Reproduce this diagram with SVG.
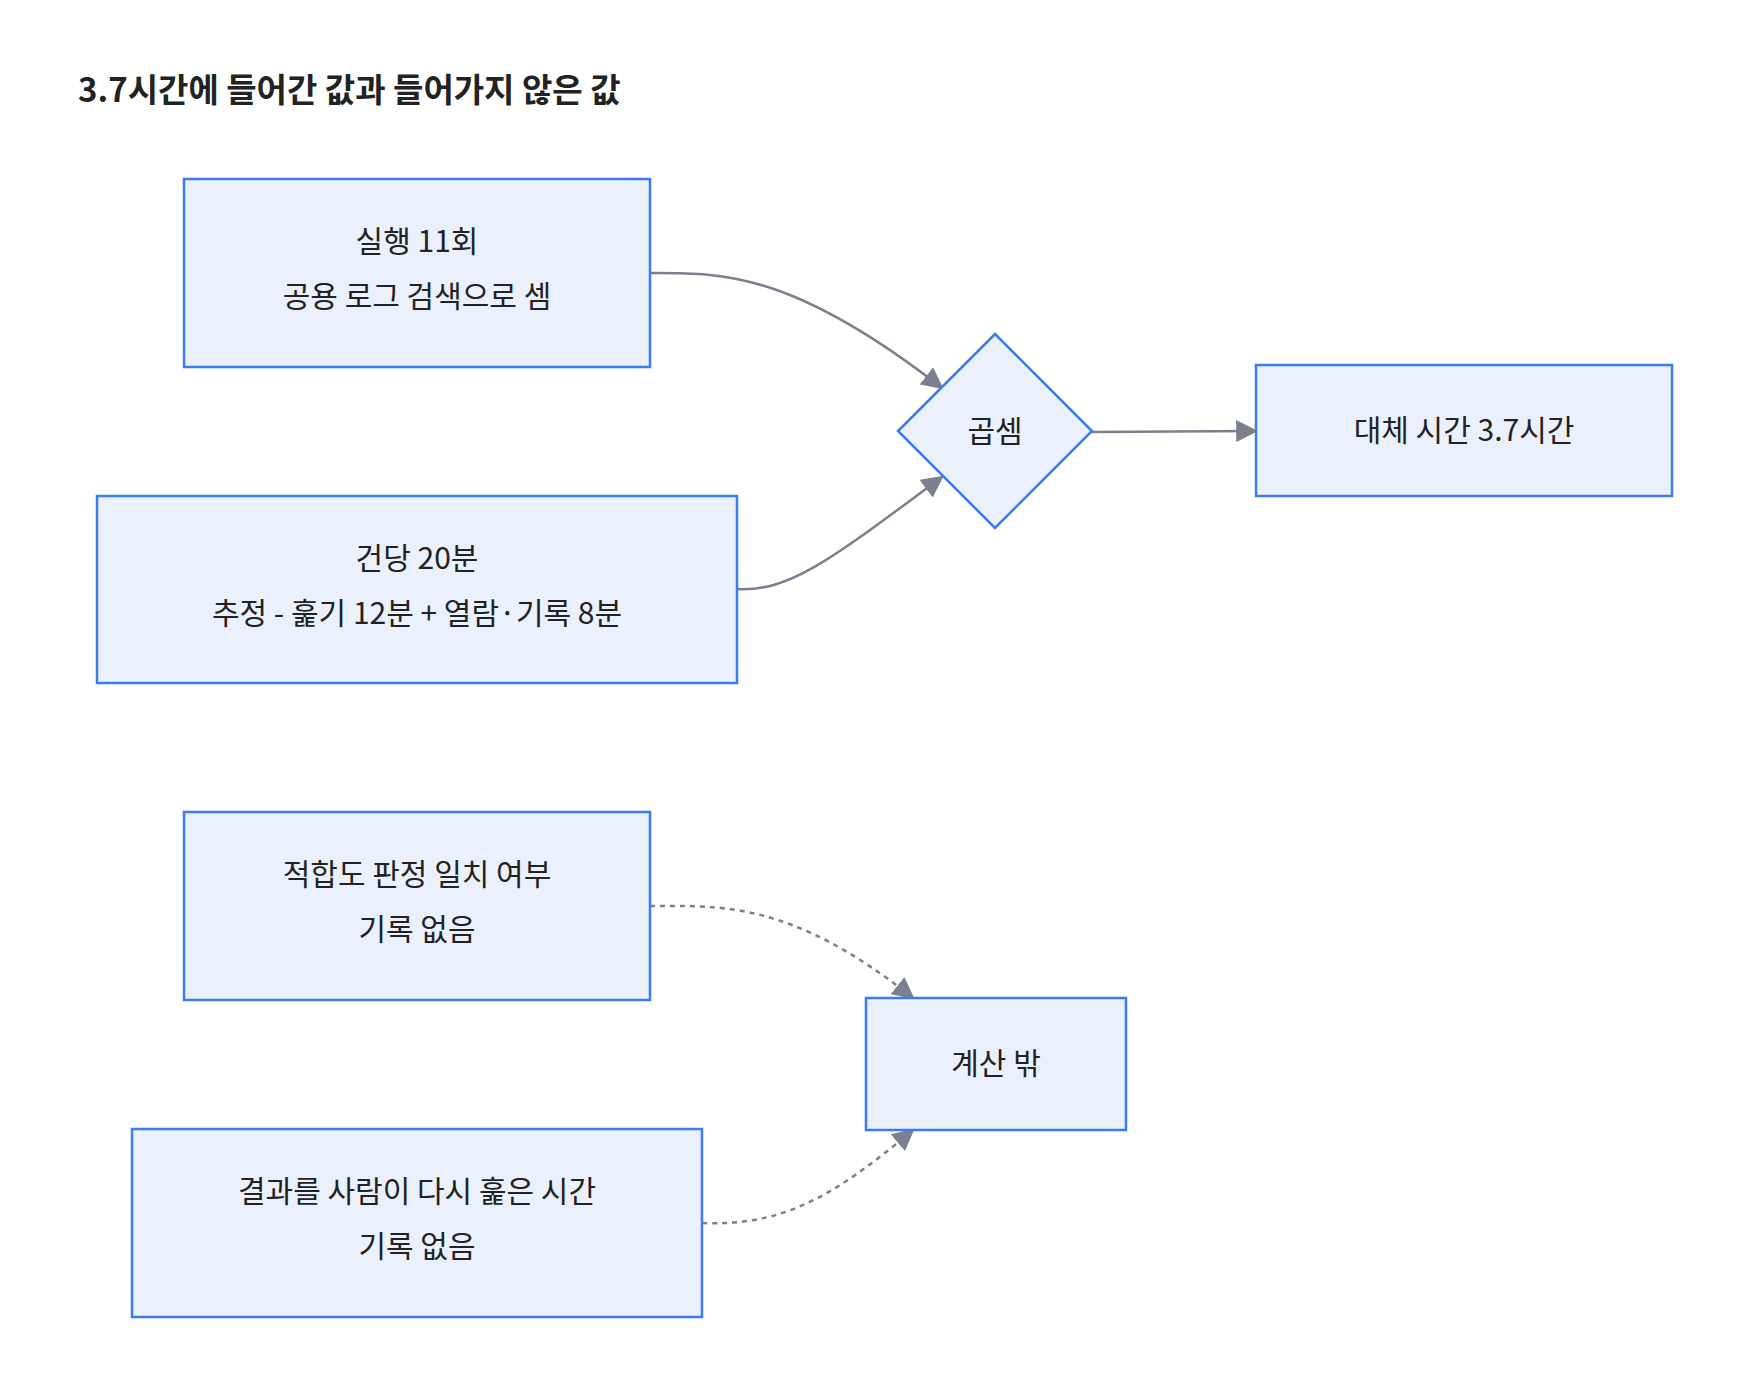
<svg xmlns="http://www.w3.org/2000/svg" width="1760" height="1400" viewBox="0 0 1760 1400">
<style>
.n{fill:#ebf0fd;stroke:#3b7cf0;stroke-width:2.5}
.t{font-family:"Noto Sans CJK KR","Noto Sans",sans-serif;font-size:30px;fill:#222;text-anchor:middle}
.e{fill:none;stroke:#7b7f8e;stroke-width:2.5}
.d{stroke-dasharray:5 5}
</style>
<defs><marker id="a" viewBox="0 0 10 10" refX="9" refY="5" markerWidth="9" markerHeight="9" markerUnits="userSpaceOnUse" orient="auto"><path d="M0,0L10,5L0,10z" fill="#7b7f8e"/></marker>
<marker id="m" viewBox="0 0 10 10" refX="9" refY="5" markerWidth="22" markerHeight="22" markerUnits="userSpaceOnUse" orient="auto"><path d="M0,0L10,5L0,10z" fill="#7b7f8e"/></marker></defs>
<rect width="1760" height="1400" fill="#fff"/>
<text x="78" y="102" style="font-family:'Noto Sans CJK KR',sans-serif;font-size:33px;font-weight:bold;fill:#222">3.7시간에 들어간 값과 들어가지 않은 값</text>
<g id="edges">
<path class="e" d="M650,273 C720,273 790,270 942,388" marker-end="url(#m)"/>
<path class="e" d="M737,589 C790,592 830,560 942,477" marker-end="url(#m)"/>
<path class="e" d="M1092,432 L1256,431" marker-end="url(#m)"/>
<path class="e d" d="M650,906 C720,906 790,900 913,998" marker-end="url(#m)"/>
<path class="e d" d="M702,1223 C780,1226 830,1200 913,1130" marker-end="url(#m)"/>
</g>
<g id="n1"><rect class="n" x="184" y="179" width="466" height="188"/><text class="t" x="417" y="252">실행 11회</text><text class="t" x="417" y="307">공용 로그 검색으로 셈</text></g>
<g id="n2"><rect class="n" x="97" y="496" width="640" height="187"/><text class="t" x="417" y="569">건당 20분</text><text class="t" x="417" y="624">추정 - 훑기 12분 + 열람·기록 8분</text></g>
<g id="n3"><path class="n" d="M995,334L1092,431L995,528L898,431z"/><text class="t" x="995" y="442">곱셈</text></g>
<g id="n4"><rect class="n" x="1256" y="365" width="416" height="131"/><text class="t" x="1464" y="441">대체 시간 3.7시간</text></g>
<g id="n5"><rect class="n" x="184" y="812" width="466" height="188"/><text class="t" x="417" y="885">적합도 판정 일치 여부</text><text class="t" x="417" y="940">기록 없음</text></g>
<g id="n6"><rect class="n" x="132" y="1129" width="570" height="188"/><text class="t" x="417" y="1202">결과를 사람이 다시 훑은 시간</text><text class="t" x="417" y="1257">기록 없음</text></g>
<g id="n7"><rect class="n" x="866" y="998" width="260" height="132"/><text class="t" x="996" y="1074">계산 밖</text></g>
</svg>
